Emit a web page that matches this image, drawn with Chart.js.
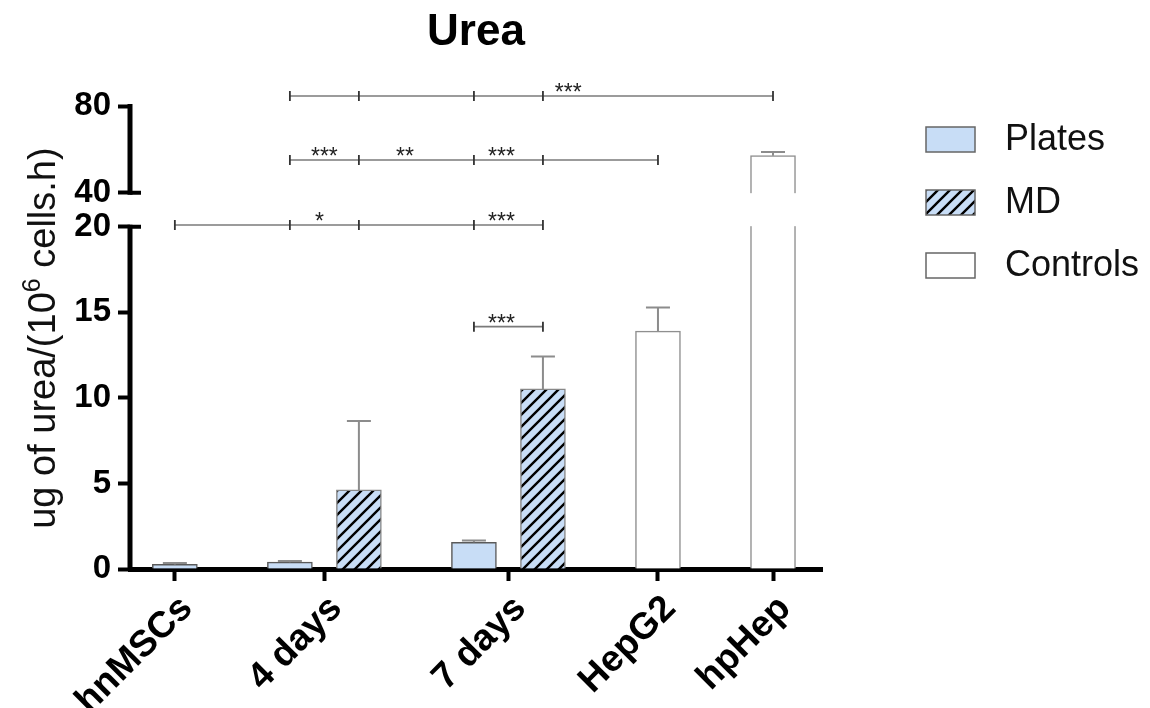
<!DOCTYPE html>
<html>
<head>
<meta charset="utf-8">
<script src="https://cdn.jsdelivr.net/npm/chart.js@4.4.1/dist/chart.umd.min.js"></script>
<style>
  body { margin: 0; background: #fff; }
  #wrap { width: 1150px; height: 708px; }
</style>
</head>
<body>
<div id="wrap"><canvas id="ureaChart"></canvas></div>
<script>
// values
const categories = ['hnMSCs', '4 days', '7 days', 'HepG2', 'hpHep'];
const seriesNames = ['Plates', 'MD', 'Controls'];
const platesMean = [0.27, 0.40, 1.56, null, null];
const platesSd = [0.08, 0.07, 0.10, null, null];
const mdMean = [null, 4.62, 10.52, null, null];
const mdSd = [null, 4.02, 1.90, null, null];
const controlsMean = [null, null, null, 13.90, 57.10];
const controlsSd = [null, null, null, 1.38, 1.70];
const yTicks = [0, 5, 10, 15, 20, 40, 80];

// significance lines: ends are [category, series], labels are [text, fromEnd, toEnd, fraction]
const sigBrackets = [
  { level: 84.6, ends: [[1, 0], [1, 1], [2, 0], [2, 1], [4, 2]], labels: [['***', 3, 4, 0.11]] },
  { level: 55.1, ends: [[1, 0], [1, 1], [2, 0], [2, 1], [3, 2]], labels: [['***', 0, 1, 0.5], ['**', 1, 2, 0.4], ['***', 2, 3, 0.4]] },
  { level: 21, ends: [[0, 0], [1, 0], [1, 1], [2, 0], [2, 1]], labels: [['*', 1, 2, 0.43], ['***', 3, 4, 0.4]] },
  { level: 14.16, ends: [[2, 0], [2, 1]], labels: [['***', 0, 1, 0.4]] }
];

// broken y axis: 0-20 below, 40-85 above
const breakLow = 20;
const breakHigh = 40;
const yTop = 85;
const lowerShare = 0.7225;
const gapShare = 0.0718;

const groupGap = 0.667;

Chart.defaults.font.family = '"Liberation Sans", Arial, sans-serif';
Chart.defaults.color = '#000';

const LinearScale = Chart.LinearScale || Chart.registry.getScale('linear');
class BrokenScale extends LinearScale {
  static id = 'broken';
  static defaults = LinearScale.defaults;
  getPixelForValue(value) {
    const h = this.bottom - this.top;
    let f;
    if (value <= breakLow) {
      f = value / breakLow * lowerShare;
    } else if (value < breakHigh) {
      f = lowerShare + (value - breakLow) / (breakHigh - breakLow) * gapShare;
    } else {
      f = lowerShare + gapShare + (value - breakHigh) / (this.max - breakHigh) * (1 - lowerShare - gapShare);
    }
    return this.bottom - f * h;
  }
  getValueForPixel(pixel) {
    const f = (this.bottom - pixel) / (this.bottom - this.top);
    if (f <= lowerShare) return f / lowerShare * breakLow;
    if (f < lowerShare + gapShare) return breakLow + (f - lowerShare) / gapShare * (breakHigh - breakLow);
    return breakHigh + (f - lowerShare - gapShare) / (1 - lowerShare - gapShare) * (this.max - breakHigh);
  }
}
Chart.register(BrokenScale);

const series = [
  { mean: platesMean, sd: platesSd },
  { mean: mdMean, sd: mdSd },
  { mean: controlsMean, sd: controlsSd }
];

// place bars side by side inside each group, groups separated by a gap
const barX = categories.map(() => []);
const groupCenter = [];
let cursor = 0;
categories.forEach((c, i) => {
  const xs = [];
  series.forEach((s, k) => {
    if (s.mean[i] != null) {
      barX[i][k] = cursor;
      xs.push(cursor);
      cursor += 1;
    }
  });
  groupCenter.push(xs.reduce((a, b) => a + b, 0) / xs.length);
  cursor += groupGap;
});
const lastSlot = cursor - 1 - groupGap;

function points(k) {
  const out = [];
  categories.forEach((c, i) => {
    if (series[k].mean[i] != null) {
      out.push({ x: barX[i][k], y: series[k].mean[i], sd: series[k].sd[i] });
    }
  });
  return out;
}

const canvas = document.getElementById('ureaChart');
const ctx = canvas.getContext('2d');

function makeHatch(bg) {
  const s = 12;
  const tile = document.createElement('canvas');
  tile.width = s;
  tile.height = s;
  const g = tile.getContext('2d');
  g.fillStyle = bg;
  g.fillRect(0, 0, s, s);
  g.strokeStyle = '#000';
  g.lineWidth = 2.4;
  g.beginPath();
  [0, s, 2 * s].forEach(k => {
    g.moveTo(-2, k + 2);
    g.lineTo(k + 2, -2);
  });
  g.stroke();
  return ctx.createPattern(tile, 'repeat');
}

const lightBlue = '#c8ddf6';

const marksPlugin = {
  id: 'marks',
  afterDatasetsDraw(chart) {
    const { ctx, chartArea: area, scales: { y } } = chart;
    const gapTop = y.getPixelForValue(breakHigh);
    const gapBottom = y.getPixelForValue(breakLow);
    ctx.save();
    // white band where the axis is broken
    ctx.fillStyle = '#fff';
    ctx.fillRect(area.left + 3, gapTop + 0.5, area.right - area.left, gapBottom - gapTop - 1);

    // error bars (upper only)
    ctx.strokeStyle = '#8c8c8c';
    ctx.lineWidth = 2;
    chart.data.datasets.forEach((ds, k) => {
      const meta = chart.getDatasetMeta(k);
      meta.data.forEach((bar, j) => {
        const pt = ds.data[j];
        const top = y.getPixelForValue(pt.y + pt.sd);
        ctx.beginPath();
        ctx.moveTo(bar.x, bar.y);
        ctx.lineTo(bar.x, top);
        ctx.moveTo(bar.x - 12, top);
        ctx.lineTo(bar.x + 12, top);
        ctx.stroke();
      });
    });
    ctx.restore();
  },
  afterDraw(chart) {
    const { ctx, chartArea: area, scales: { x, y } } = chart;
    ctx.save();

    // y spine in two pieces with caps at the break
    const p80 = y.getPixelForValue(80);
    const p40 = y.getPixelForValue(breakHigh);
    const p20 = y.getPixelForValue(breakLow);
    const p0 = y.getPixelForValue(0);
    ctx.strokeStyle = '#000';
    ctx.lineWidth = 5;
    ctx.beginPath();
    ctx.moveTo(area.left, p80 - 2);
    ctx.lineTo(area.left, p40 + 2);
    ctx.moveTo(area.left, p20 - 2);
    ctx.lineTo(area.left, p0);
    ctx.stroke();
    ctx.lineWidth = 4;
    ctx.beginPath();
    ctx.moveTo(area.left, p40);
    ctx.lineTo(area.left + 11, p40);
    ctx.moveTo(area.left, p20);
    ctx.lineTo(area.left + 11, p20);
    ctx.stroke();

    // y axis title with a raised exponent
    ctx.save();
    ctx.translate(45, (area.top + area.bottom) / 2 + 6);
    ctx.rotate(-Math.PI / 2);
    ctx.fillStyle = '#111';
    ctx.textBaseline = 'middle';
    ctx.textAlign = 'left';
    const big = '38px "Liberation Sans", Arial, sans-serif';
    const small = '25px "Liberation Sans", Arial, sans-serif';
    const parts = [['ug of urea/(10', big, 0], ['6', small, -12], [' cells.h)', big, 0]];
    let total = 0;
    parts.forEach(([t, f]) => { ctx.font = f; total += ctx.measureText(t).width; });
    let tx = -total / 2;
    parts.forEach(([t, f, dy]) => {
      ctx.font = f;
      ctx.fillText(t, tx, dy);
      tx += ctx.measureText(t).width;
    });
    ctx.restore();

    // significance lines
    ctx.font = '23px "Liberation Sans", Arial, sans-serif';
    ctx.textAlign = 'center';
    ctx.textBaseline = 'alphabetic';
    sigBrackets.forEach(b => {
      const yy = y.getPixelForValue(b.level);
      const xs = b.ends.map(([c, k]) => x.getPixelForValue(barX[c][k]));
      ctx.strokeStyle = '#7a7a7a';
      ctx.lineWidth = 1.6;
      ctx.beginPath();
      ctx.moveTo(xs[0], yy);
      ctx.lineTo(xs[xs.length - 1], yy);
      ctx.stroke();
      ctx.strokeStyle = '#333';
      ctx.lineWidth = 1.8;
      ctx.beginPath();
      xs.forEach(px => {
        ctx.moveTo(px, yy - 5);
        ctx.lineTo(px, yy + 5);
      });
      ctx.stroke();
      ctx.fillStyle = '#222';
      b.labels.forEach(([text, a, c, f]) => {
        ctx.fillText(text, xs[a] + (xs[c] - xs[a]) * f, yy + 4);
      });
    });

    // legend
    const lx = area.right + 104;
    ctx.font = '36px "Liberation Sans", Arial, sans-serif';
    ctx.textAlign = 'left';
    ctx.textBaseline = 'middle';
    chart.data.datasets.forEach((ds, k) => {
      const ty = 127 + k * 63;
      ctx.fillStyle = ds.backgroundColor;
      ctx.fillRect(lx, ty, 49, 25);
      ctx.strokeStyle = '#666';
      ctx.lineWidth = 1.5;
      ctx.strokeRect(lx, ty, 49, 25);
      ctx.fillStyle = '#111';
      ctx.fillText(ds.label, lx + 79, ty + 13);
    });
    ctx.restore();
  }
};

new Chart(ctx, {
  type: 'bar',
  data: {
    datasets: [
      {
        label: seriesNames[0],
        data: points(0),
        backgroundColor: lightBlue,
        borderColor: '#5a5a5a',
        borderWidth: 1.5
      },
      {
        label: seriesNames[1],
        data: points(1),
        backgroundColor: makeHatch(lightBlue),
        borderColor: '#888',
        borderWidth: 1.5
      },
      {
        label: seriesNames[2],
        data: points(2),
        backgroundColor: '#fff',
        borderColor: '#8f8f8f',
        borderWidth: 1.5
      }
    ]
  },
  options: {
    responsive: true,
    maintainAspectRatio: false,
    animation: false,
    datasets: { bar: { grouped: false, barThickness: 45 } },
    layout: { padding: { left: 0, right: 328, top: 0, bottom: 0 } },
    plugins: {
      legend: { display: false },
      tooltip: { enabled: false },
      title: {
        display: true,
        text: 'Urea',
        fullSize: false,
        color: '#000',
        font: { size: 44, weight: 'bold' },
        padding: { top: 6, bottom: 36.4 }
      }
    },
    scales: {
      x: {
        type: 'linear',
        offset: false,
        min: -0.65,
        max: lastSlot + 0.71,
        z: 1,
        border: { display: true, color: '#000', width: 5 },
        grid: { display: true, offset: false, drawOnChartArea: false, drawTicks: true, tickLength: 12, tickWidth: 4, tickColor: '#000' },
        afterBuildTicks: scale => { scale.ticks = groupCenter.map(v => ({ value: v })); },
        afterFit: scale => { scale.height = 139; },
        ticks: {
          autoSkip: false,
          minRotation: 45,
          maxRotation: 45,
          padding: 6,
          labelOffset: 12,
          color: '#000',
          font: { size: 37, weight: 'bold' },
          callback: (v, i) => categories[i]
        }
      },
      y: {
        type: 'broken',
        min: 0,
        max: yTop,
        z: 1,
        border: { display: false },
        grid: { display: true, drawOnChartArea: false, drawTicks: true, tickLength: 12, tickWidth: 4, tickColor: '#000' },
        afterBuildTicks: scale => { scale.ticks = yTicks.map(v => ({ value: v })); },
        afterFit: scale => { scale.width = 130; },
        ticks: {
          padding: 7,
          color: '#000',
          font: { size: 33, weight: 'bold' },
          callback: v => v
        }
      }
    }
  },
  plugins: [marksPlugin]
});
</script>
</body>
</html>
